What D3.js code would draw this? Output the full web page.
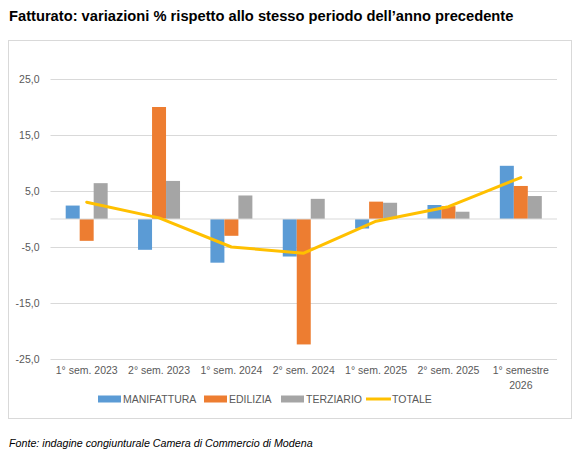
<!DOCTYPE html>
<html>
<head>
<meta charset="utf-8">
<script src="https://cdn.jsdelivr.net/npm/d3@7"></script>
<style>
  body { margin: 0; background: #fff; }
  text { font-family: "Liberation Sans", Arial, sans-serif; }
</style>
</head>
<body>
<div id="chart"></div>
<script>
// ------------------------- data
var categories = ["1° sem. 2023", "2° sem. 2023", "1° sem. 2024", "2° sem. 2024", "1° sem. 2025", "2° sem. 2025", "1° semestre 2026"];
var seriesNames = ["MANIFATTURA", "EDILIZIA", "TERZIARIO"];
var manifattura = [2.4, -5.5, -7.8, -6.7, -1.7, 2.5, 9.5];
var edilizia = [-3.9, 20.0, -3.0, -22.4, 3.1, 2.3, 5.9];
var terziario = [6.4, 6.8, 4.2, 3.6, 2.9, 1.3, 4.1];
var totale = [3.0, 0.2, -5.0, -6.1, -0.4, 2.2, 7.4];
var yTicks = [-25, -15, -5, 5, 15, 25];

var colors = ["#5B9BD5", "#ED7D31", "#A5A5A5"];
var lineColor = "#FFC000";

var width = 583, height = 458;
var svg = d3.select("#chart").append("svg")
    .attr("width", width)
    .attr("height", height);

// title
svg.append("text")
    .attr("x", 9)
    .attr("y", 21)
    .style("font-size", "14.7px")
    .style("font-weight", "bold")
    .attr("fill", "#000")
    .text("Fatturato: variazioni % rispetto allo stesso periodo dell’anno precedente");

// chart frame
svg.append("rect")
    .attr("x", 8.5).attr("y", 40.5)
    .attr("width", 563).attr("height", 378)
    .attr("fill", "#fff")
    .attr("stroke", "#D9D9D9");

var plotLeft = 50.5, plotRight = 557;

var y = d3.scaleLinear()
    .domain([-25, 30])
    .range([359, 51]);

var x0 = d3.scaleBand()
    .domain(categories)
    .range([plotLeft, plotRight])
    .paddingInner(0.42)
    .paddingOuter(0.21);

var x1 = d3.scaleBand()
    .domain(seriesNames)
    .range([0, x0.bandwidth()]);

// gridlines + y labels
var yAxis = svg.append("g")
    .attr("class", "axis")
    .attr("transform", "translate(" + plotLeft + ",0)")
    .call(d3.axisLeft(y)
        .tickValues(yTicks)
        .tickSize(-(plotRight - plotLeft))
        .tickPadding(11)
        .tickFormat(function(d) { return d3.format(".1f")(d).replace(".", ",").replace("−", "-"); }));
yAxis.select(".domain").remove();
yAxis.selectAll(".tick line").attr("stroke", "#D9D9D9");
yAxis.selectAll(".tick text")
    .attr("fill", "#595959")
    .style("font-size", "10.5px");

// bars
var table = categories.map(function(c, i) {
    return { cat: c, values: [manifattura[i], edilizia[i], terziario[i]] };
});

var groups = svg.selectAll(".group")
    .data(table)
    .enter().append("g")
    .attr("class", "group")
    .attr("transform", function(d) { return "translate(" + x0(d.cat) + ",0)"; });

groups.selectAll("rect")
    .data(function(d) { return d.values.map(function(v, j) { return { key: seriesNames[j], value: v, j: j }; }); })
    .enter().append("rect")
    .attr("x", function(d) { return x1(d.key); })
    .attr("width", x1.bandwidth())
    .attr("y", function(d) { return y(Math.max(0, d.value)); })
    .attr("height", function(d) { return Math.abs(y(d.value) - y(0)); })
    .attr("fill", function(d) { return colors[d.j]; });

// zero axis line
svg.append("line")
    .attr("x1", plotLeft).attr("x2", plotRight)
    .attr("y1", y(0)).attr("y2", y(0))
    .attr("stroke", "#D9D9D9");

// totale line
var line = d3.line()
    .x(function(d, i) { return x0(categories[i]) + x0.bandwidth() / 2; })
    .y(function(d) { return y(d); });

svg.append("path")
    .datum(totale)
    .attr("d", line)
    .attr("fill", "none")
    .attr("stroke", lineColor)
    .attr("stroke-width", 3)
    .attr("stroke-linejoin", "round")
    .attr("stroke-linecap", "round");

// category labels
var xAxis = svg.append("g")
    .attr("transform", "translate(0,367)")
    .call(d3.axisBottom(x0).tickSize(0).tickPadding(0));
xAxis.select(".domain").remove();
xAxis.selectAll(".tick text")
    .attr("fill", "#595959")
    .style("font-size", "10.5px")
    .each(function(d) {
        var t = d3.select(this);
        var words = d.split(" ");
        if (words.length > 2 && d.length > 14) {
            t.text(null);
            t.append("tspan").attr("x", 0).attr("dy", "0.71em").text(words.slice(0, 2).join(" "));
            t.append("tspan").attr("x", 0).attr("dy", "1.4em").text(words.slice(2).join(" "));
        }
    });

// legend
var legendItems = seriesNames.concat(["TOTALE"]);
var legendX = [98, 204, 281, 366];
var legend = svg.append("g").attr("transform", "translate(0,399)");
legendItems.forEach(function(name, i) {
    var g = legend.append("g").attr("transform", "translate(" + legendX[i] + ",0)");
    if (i < 3) {
        g.append("rect").attr("x", 0).attr("y", -3.5).attr("width", 23).attr("height", 7).attr("fill", colors[i]);
    } else {
        g.append("line").attr("x1", 0).attr("x2", 25).attr("y1", 0).attr("y2", 0)
            .attr("stroke", lineColor).attr("stroke-width", 3);
    }
    g.append("text")
        .attr("x", i < 3 ? 25 : 26)
        .attr("y", 0)
        .attr("dy", "0.35em")
        .attr("fill", "#595959")
        .style("font-size", "10.5px")
        .text(name);
});

// source note
svg.append("text")
    .attr("x", 9)
    .attr("y", 447)
    .style("font-size", "10.7px")
    .style("font-style", "italic")
    .attr("fill", "#000")
    .text("Fonte: indagine congiunturale Camera di Commercio di Modena");
</script>
</body>
</html>
